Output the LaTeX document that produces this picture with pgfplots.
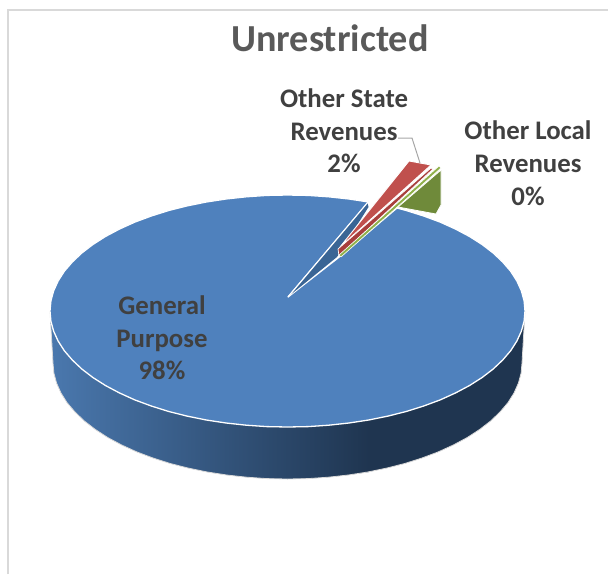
\documentclass[border=0pt]{standalone}
\usepackage{fontspec}
\setmainfont{Carlito}
\usepackage{pgfplots}
\pgfplotsset{compat=1.18}
\definecolor{pieblue}{HTML}{4F81BD}
\definecolor{wallL}{HTML}{4A78AE}
\definecolor{wallD}{HTML}{1F3550}
\definecolor{cutblue}{HTML}{3A6595}
\definecolor{piered}{HTML}{C0504D}
\definecolor{redwall}{HTML}{A83F3C}
\definecolor{piegreen}{HTML}{6F8A3A}
\definecolor{greenlite}{HTML}{8FB04A}
\definecolor{titlegrey}{HTML}{595959}
\definecolor{labelgrey}{HTML}{404040}
\definecolor{framegrey}{HTML}{D9D9D9}
\tikzset{lbl/.style={font=\fontsize{26.8}{26.8}\selectfont\bfseries, text=labelgrey, anchor=base, inner sep=0pt}}
\begin{document}
\begin{tikzpicture}
\useasboundingbox (0,0) rectangle (608pt,574pt);
\begin{axis}[
  scale only axis, width=608pt, height=574pt,
  xmin=0, xmax=608, ymin=0, ymax=574, y dir=reverse,
  axis lines=none, clip=true,
]
% chart frame
\addplot[framegrey, line width=1.8pt] coordinates {(8,574) (8,10) (608,10)};

% outer wall of the disc, shaded part then dark part
\addplot[draw=none, fill=wallD] coordinates {
 (368.7,420) (387.9,416.1) (406.25,411.5) (423.7,406) (440.2,399.9) (455.4,393) (469.4,385.6) (482.1,377.5) (493.2,369) (502.7,360) (510.7,350.7) (516.9,341) (521.4,331.1) (524.1,321.1) (525,311)
 (522,363) (521.1,373.1) (518.4,383.1) (514,393) (507.9,402.7) (500,412) (490.6,421) (479.6,429.5) (467.1,437.6) (453.3,445) (438.2,451.9) (422,458) (404.75,463.5) (386.6,468.1) (367.7,472)
} --cycle;
\addplot[draw=none, left color=wallL, right color=wallD] coordinates {
 (50,311) (50.9,321.1) (53.6,331.1) (58.1,341) (64.3,350.7) (72.3,360) (81.8,369) (92.9,377.5) (105.6,385.6) (119.6,393) (134.8,399.9) (151.3,406) (168.75,411.5) (187.1,416.1) (206.3,420) (226,423) (246.3,425.2) (266.8,426.6) (287.5,427) (308.2,426.6) (328.7,425.2) (349,423) (369,420)
 (369,472) (348.2,475) (328.2,477.2) (307.9,478.6) (287.5,479) (267.1,478.6) (246.8,477.2) (226.8,475) (207.3,472) (188.4,468.1) (170.25,463.5) (153,458) (136.8,451.9) (121.7,445) (107.9,437.6) (95.4,429.5) (84.4,421) (75,412) (67.1,402.7) (61,393) (56.6,383.1) (53.9,373.1) (53,363)
} --cycle;
% thin rim along the lower edge of the wall
\addplot[framegrey, line width=0.8pt] coordinates {
 (525,311) (522,363) (521.1,373.1) (518.4,383.1) (514,393) (507.9,402.7) (500,412) (490.6,421) (479.6,429.5) (467.1,437.6) (453.3,445) (438.2,451.9) (422,458) (404.75,463.5) (386.6,468.1) (367.7,472) (348.2,475) (328.2,477.2) (307.9,478.6) (287.5,479) (267.1,478.6) (246.8,477.2) (226.8,475) (207.3,472) (188.4,468.1) (170.25,463.5) (153,458) (136.8,451.9) (121.7,445) (107.9,437.6) (95.4,429.5) (84.4,421) (75,412) (67.1,402.7) (61,393) (56.6,383.1) (53.9,373.1) (53,363) (50,311)
};

% top face of the General Purpose slice
\addplot[fill=pieblue, draw=white, line width=1.3pt, line join=round] coordinates {
 (397,208) (406.25,210.5) (423.7,216) (440.2,222.1) (455.4,229) (469.4,236.4) (482.1,244.5) (493.2,253) (502.7,262) (510.7,271.3) (516.9,281) (521.4,290.9) (524.1,300.9) (525,311)
 (524.1,321.1) (521.4,331.1) (516.9,341) (510.7,350.7) (502.7,360) (493.2,369) (482.1,377.5) (469.4,385.6) (455.4,393) (440.2,399.9) (423.7,406) (406.25,411.5) (387.9,416.1) (368.7,420) (349,423) (328.7,425.2) (308.2,426.6) (287.5,427)
 (266.8,426.6) (246.3,425.2) (226,423) (206.3,420) (187.1,416.1) (168.75,411.5) (151.3,406) (134.8,399.9) (119.6,393) (105.6,385.6) (92.9,377.5) (81.8,369) (72.3,360) (64.3,350.7) (58.1,341) (53.6,331.1) (50.9,321.1) (50,311)
 (50.9,300.9) (53.6,290.9) (58.1,281) (64.3,271.3) (72.3,262) (81.8,253) (92.9,244.5) (105.6,236.4) (119.6,229) (134.8,222.1) (151.3,216) (168.75,210.5) (187.1,205.9) (206.3,202) (226,199) (246.3,196.8) (266.8,195.4) (287.5,195) (308.2,195.4) (328.7,196.8) (349,199) (368.7,202)
 (288,297) (338,258)
} --cycle;
% cut face of the slice
\addplot[fill=cutblue, draw=none] coordinates {(289,296) (367.5,203) (368.5,207) (337,257)} --cycle;
\addplot[white, line width=1.2pt] coordinates {(288,297) (368,202)};

% Other State Revenues slice
\addplot[fill=piered, draw=white, line width=0.9pt, line join=round] coordinates {(409,161) (431,165) (340,247)} --cycle;
\addplot[fill=redwall, draw=white, line width=0.7pt, line join=round] coordinates {(431,168) (433,169) (339,256) (338,249)} --cycle;

% Other Local Revenues slice
\addplot[fill=piegreen, draw=white, line width=0.8pt, line join=round] coordinates {(441,170) (441,205) (436,214) (398,207)} --cycle;
\addplot[fill=greenlite, draw=white, line width=0.6pt, line join=round] coordinates {(439,166) (441,168) (341,257) (339,255)} --cycle;

% leader line
\addplot[color=black!35, line width=1pt] coordinates {(398,138) (412,138) (420,163)};

% title and data labels
\node[font=\fontsize{38.2}{38.2}\selectfont\bfseries, text=titlegrey, anchor=base, inner sep=0pt] at (axis cs:330,51) {Unrestricted};
\node[lbl] at (axis cs:344,107) {Other State};
\node[lbl] at (axis cs:344,140) {Revenues};
\node[lbl] at (axis cs:344,172) {2\%};
\node[lbl] at (axis cs:528,139) {Other Local};
\node[lbl] at (axis cs:528,172) {Revenues};
\node[lbl] at (axis cs:528,205) {0\%};
\node[lbl] at (axis cs:162,314) {General};
\node[lbl] at (axis cs:162,347) {Purpose};
\node[lbl] at (axis cs:162,379) {98\%};
\end{axis}
\end{tikzpicture}
\end{document}
